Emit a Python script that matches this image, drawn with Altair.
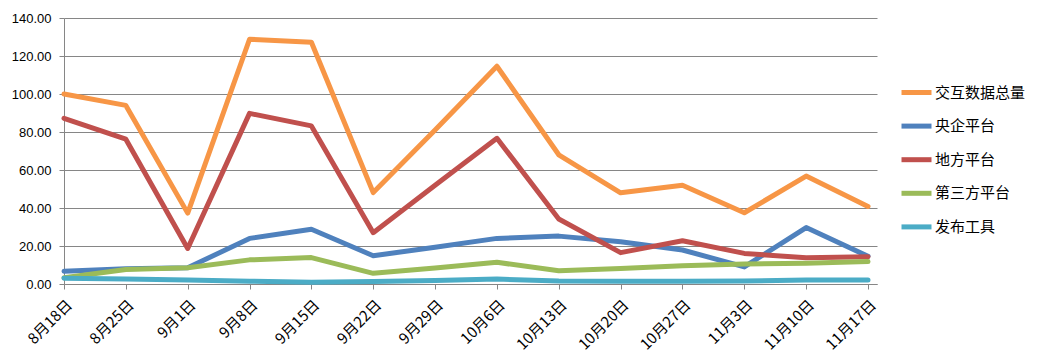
import json
import altair as alt
import pandas as pd

dates = ["8月18日", "8月25日", "9月1日", "9月8日", "9月15日", "9月22日", "9月29日",
         "10月6日", "10月13日", "10月20日", "10月27日", "11月3日", "11月10日", "11月17日"]

series_names = ["交互数据总量", "央企平台", "地方平台", "第三方平台", "发布工具"]
colors = ["#F79646", "#4F81BD", "#C0504D", "#9BBB59", "#4BACC6"]

total = [100.0, 94.0, 37.3, 128.8, 127.2, 48.1, 81.0, 114.6, 68.0, 48.0, 52.0, 37.5, 56.8, 40.8]
central = [6.7, 8.0, 8.5, 24.0, 28.8, 14.9, 19.3, 24.0, 25.2, 22.2, 17.9, 9.0, 29.7, 14.6]
local = [87.2, 76.2, 18.7, 89.8, 83.2, 27.0, 52.0, 76.7, 34.2, 16.5, 22.8, 16.1, 13.8, 14.4]
third = [3.3, 7.6, 8.6, 12.7, 13.9, 5.6, 8.4, 11.4, 7.0, 8.2, 9.6, 10.5, 10.9, 11.8]
tool = [3.0, 2.6, 2.1, 1.5, 0.9, 1.3, 1.9, 2.6, 1.6, 1.5, 1.5, 1.6, 2.1, 2.1]

values_by_series = [total, central, local, third, tool]

rows = []
for s, vals in zip(series_names, values_by_series):
    for i, (d, v) in enumerate(zip(dates, vals)):
        rows.append({"series": s, "idx": i, "date": d, "value": v})
df = pd.DataFrame(rows)

W = 813
H = 266
step = 804 / 13
xmax = W / step

label_expr = json.dumps(dates, ensure_ascii=False) + "[datum.value]"

grey = "#868686"

chart = alt.Chart(df).mark_line(
    strokeWidth=5, strokeCap="round", strokeJoin="round"
).encode(
    x=alt.X("idx:Q",
            scale=alt.Scale(domain=[0, xmax], nice=False, zero=False),
            axis=alt.Axis(values=list(range(14)), labelExpr=label_expr, title=None,
                          grid=False, labelAngle=-45, labelAlign="right",
                          labelBaseline="middle", labelFont="Noto Sans CJK SC",
                          labelFontSize=15, labelColor="#000000", labelPadding=13,
                          labelOffset=5, tickSize=5, tickColor=grey, domainColor=grey,
                          labelBound=False, labelOverlap=False)),
    y=alt.Y("value:Q",
            scale=alt.Scale(domain=[0, 140], nice=False),
            axis=alt.Axis(values=list(range(0, 141, 20)), format=".2f", title=None,
                          grid=True, gridColor=grey, gridWidth=1, tickColor=grey,
                          tickSize=5, domainColor=grey, labelFont="Liberation Sans",
                          labelFontSize=13, labelColor="#000000", labelPadding=8)),
    color=alt.Color("series:N",
                    scale=alt.Scale(domain=series_names, range=colors),
                    sort=series_names,
                    legend=alt.Legend(title=None, orient="none", legendX=835, legendY=57,
                                      padding=0,
                                      symbolType="stroke", symbolSize=900,
                                      symbolStrokeWidth=5, labelFont="Noto Sans CJK SC",
                                      labelFontSize=15, labelColor="#000000",
                                      labelOffset=1, rowPadding=5.6)),
    order=alt.Order("idx:Q"),
).properties(
    width=W, height=H,
    autosize=alt.AutoSizeParams(type="none"),
    padding={"left": 56, "top": 10, "right": 152, "bottom": 71},
    background="white",
).configure_view(stroke=None)

chart.save("out.html", embed_options={"renderer": "svg", "actions": False})
